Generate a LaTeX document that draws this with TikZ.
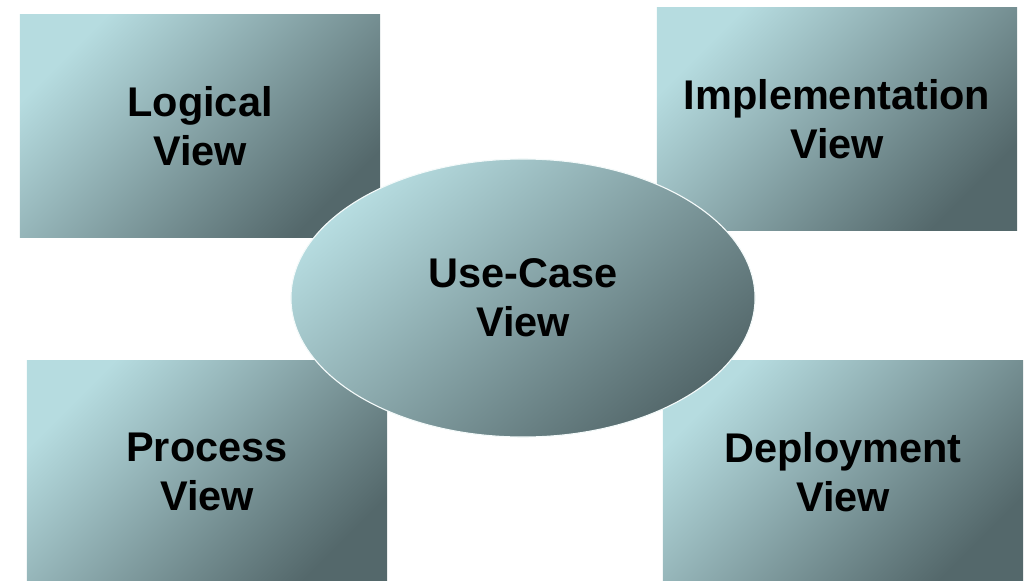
\documentclass[tikz,border=0pt]{standalone}
\usepackage{fontspec}
\setmainfont{Liberation Sans}
\usetikzlibrary{positioning, shapes.geometric}

\definecolor{viewlight}{RGB}{182,220,224}
\definecolor{viewdark}{RGB}{84,104,107}

\begin{document}
\begin{tikzpicture}[
            x=0.025cm, y=-0.025cm,
            view/.style={rectangle, minimum width=9cm, minimum height=5.55cm, inner sep=0pt,
                top color=viewlight, bottom color=viewdark, shading angle=45,
                align=center, font=\fontsize{29.5}{35}\selectfont\bfseries},
            usecase/.style={ellipse, minimum width=11.6cm, minimum height=6.95cm, inner sep=0pt,
                top color=viewlight, bottom color=viewdark, shading angle=40,
                draw=white!85!viewlight, line width=0.8pt,
                align=center, font=\fontsize{29.5}{35}\selectfont\bfseries}
        ]
        \useasboundingbox (0,0) rectangle (1028,580);
        % Four surrounding views
        \node[view] (logical) at (200, 126) {Logical\\View};
        \node[view] (impl) at (837, 119) {Implementation\\View};
        \node[view] (process) at (207, 472) {Process\\View};
        \node[view] (deploy) at (843, 472) {Deployment\\View};
        % Central view
        \node[usecase] (usecase) at (523, 298) {Use-Case\\View};
\end{tikzpicture}
\end{document}
